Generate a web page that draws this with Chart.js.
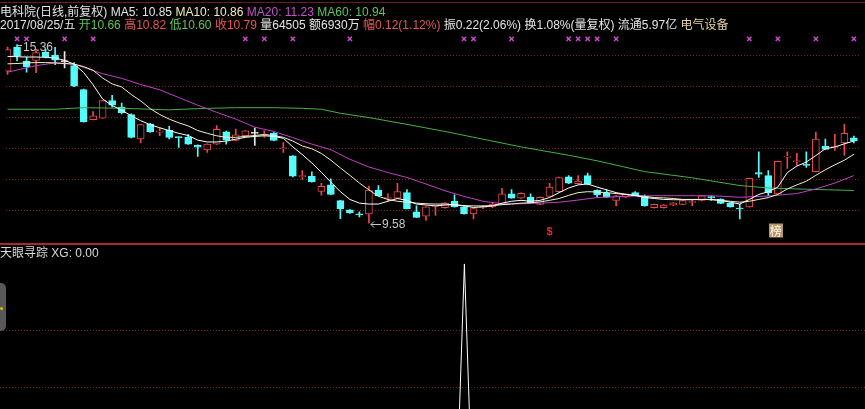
<!DOCTYPE html>
<html lang="zh">
<head>
<meta charset="UTF-8">
<title>电科院 日线</title>
<script src="https://cdn.jsdelivr.net/npm/chart.js"></script>
<style>
    body {
        margin: 0;
        width: 865px;
        height: 409px;
        overflow: hidden;
        position: relative;
        background: #000;
        font-family: "Liberation Sans", "Noto Sans CJK SC", sans-serif;
        font-size: 12px;
        color: #e4e4e4;
    }
    canvas { position: absolute; left: 0; }
    #main { top: 0; }
    #sub { top: 246px; }
    .row { position: absolute; left: 0; white-space: nowrap; line-height: 14px; }
    .topline { position: absolute; left: 0; top: 2px; width: 865px; height: 1px; background: #6a1c1c; }
    .sep { position: absolute; left: 0; top: 243px; width: 865px; height: 2px; background: #a82a2a; }
    .knob { position: absolute; left: 0; top: 283px; width: 6px; height: 48px; background: #585858; border-radius: 0 5px 5px 0; }
    .knob i { position: absolute; left: 0; top: 24px; width: 3px; height: 3px; background: #e8c000; border-radius: 2px; }
    .w { color: #e4e4e4; }
    .y { color: #f2ecbc; }
    .m { color: #c850c8; }
    .g { color: #5cc45c; }
    .r { color: #e65656; }
    .c { color: #e2d2a0; }
</style>
</head>
<body>
<div class="topline"></div>
<canvas id="main" width="865" height="244"></canvas>
<canvas id="sub" width="865" height="163"></canvas>
<div class="sep"></div>
<div class="knob"><i></i></div>

<div class="row" style="top:5px">
    <span class="w">电科院(日线,前复权)</span> <span class="w">MA5: 10.85</span>
    <span class="y">MA10: 10.86</span> <span class="m">MA20: 11.23</span> <span class="g">MA60: 10.94</span>
</div>
<div class="row" style="top:18px">
    <span class="w">2017/08/25/五</span> <span class="g">开10.66</span> <span class="r">高10.82</span>
    <span class="g">低10.60</span> <span class="r">收10.79</span> <span class="w">量64505</span>
    <span class="w">额6930万</span> <span class="r">幅0.12(1.12%)</span> <span class="w">振0.22(2.06%)</span>
    <span class="w">换1.08%(量复权)</span> <span class="w">流通5.97亿</span> <span class="c">电气设备</span>
</div>
<div class="row" style="top:246px; color:#d8d8d8">天眼寻踪 XG: 0.00</div>

<script>
    // daily candles, oldest on the left
    const open = [14.50, 15.28, 14.83, 14.85, 15.12, 15.02, 14.81, 14.68, 13.91, 12.93,
        12.98, 13.55, 13.34, 13.10, 12.31, 12.79, 12.53, 12.59, 12.37, 12.36,
        12.10, 11.95, 12.14, 12.54, 12.26, 12.41, 12.49, 12.43, 12.49, 11.99,
        11.76, 11.09, 11.10, 10.61, 10.82, 10.31, 10.01, 9.86, 9.88, 10.65,
        10.38, 10.39, 10.57, 9.95, 9.81, 10.12, 10.08, 10.29, 10.11, 9.88,
        10.09, 10.11, 10.19, 10.53, 10.39, 10.42, 10.19, 10.45, 10.60, 11.08,
        10.86, 11.12, 10.65, 10.55, 10.32, 10.42, 10.57, 10.45, 10.08, 10.08,
        10.16, 10.19, 10.25, 10.32, 10.43, 10.36, 10.22, 10.06, 10.11, 11.22,
        11.12, 10.53, 11.72, 11.57, 11.47, 11.25, 12.07, 12.03, 12.18, 12.34];
    const high = [15.28, 15.36, 14.96, 15.22, 15.22, 15.27, 15.14, 14.78, 13.92, 13.19,
        13.56, 13.72, 13.47, 13.12, 12.78, 12.81, 12.67, 12.72, 12.38, 12.45,
        12.12, 12.15, 12.74, 12.56, 12.63, 12.58, 12.67, 12.57, 12.51, 12.19,
        11.77, 11.28, 11.24, 10.87, 11.02, 10.32, 10.02, 9.95, 10.78, 10.80,
        10.53, 10.87, 10.67, 10.14, 10.12, 10.16, 10.25, 10.50, 10.12, 10.06,
        10.14, 10.25, 10.71, 10.67, 10.56, 10.53, 10.43, 10.87, 11.07, 11.12,
        11.12, 11.20, 10.66, 10.66, 10.48, 10.54, 10.60, 10.50, 10.20, 10.18,
        10.25, 10.32, 10.32, 10.48, 10.47, 10.37, 10.24, 10.19, 11.04, 11.89,
        11.28, 11.59, 11.89, 11.84, 11.89, 12.53, 12.30, 12.46, 12.79, 12.40];
    const low = [14.40, 14.83, 14.47, 14.45, 14.93, 14.71, 14.61, 14.00, 12.85, 12.92,
        12.97, 13.34, 13.12, 12.34, 12.18, 12.52, 12.41, 12.31, 12.03, 12.13,
        11.74, 11.87, 12.13, 12.14, 12.25, 12.40, 12.10, 12.36, 12.25, 11.87,
        11.08, 11.00, 10.91, 10.49, 10.50, 9.73, 9.90, 9.78, 9.58, 10.46,
        10.29, 10.38, 10.04, 9.76, 9.67, 9.83, 10.07, 10.10, 9.87, 9.72,
        10.05, 10.08, 10.18, 10.38, 10.38, 10.23, 10.18, 10.44, 10.59, 10.86,
        10.85, 10.83, 10.43, 10.41, 10.14, 10.41, 10.46, 10.13, 10.07, 10.07,
        10.15, 10.18, 10.15, 10.30, 10.32, 10.21, 10.10, 9.72, 10.10, 11.06,
        10.47, 10.52, 11.35, 11.46, 11.39, 11.24, 11.96, 11.94, 11.78, 12.18];
    const close = [15.20, 15.00, 14.65, 15.10, 14.96, 14.86, 14.81, 14.02, 12.86, 13.06,
        13.55, 13.40, 13.16, 12.36, 12.77, 12.54, 12.56, 12.36, 12.35, 12.14,
        12.04, 12.14, 12.62, 12.28, 12.44, 12.57, 12.49, 12.45, 12.26, 12.01,
        11.10, 11.11, 10.92, 10.77, 10.51, 10.05, 9.91, 9.85, 10.65, 10.47,
        10.40, 10.60, 10.05, 9.77, 10.11, 10.14, 10.24, 10.11, 9.88, 10.05,
        10.11, 10.20, 10.53, 10.39, 10.55, 10.24, 10.42, 10.75, 11.06, 10.88,
        10.94, 10.84, 10.50, 10.42, 10.47, 10.53, 10.47, 10.14, 10.19, 10.17,
        10.24, 10.31, 10.27, 10.47, 10.41, 10.22, 10.11, 10.04, 11.03, 11.17,
        10.57, 11.58, 11.74, 11.59, 11.45, 12.30, 11.97, 12.05, 12.49, 12.25];

    // moving averages
    const ma5 = [14.98, 14.97, 14.96, 14.96, 14.95, 14.93, 14.85, 14.73, 14.46, 14.06,
        13.60, 13.39, 13.24, 13.06, 12.90, 12.77, 12.67, 12.58, 12.49, 12.42,
        12.27, 12.21, 12.21, 12.24, 12.30, 12.36, 12.39, 12.41, 12.39, 12.33,
        12.05, 11.80, 11.53, 11.23, 10.91, 10.60, 10.35, 10.23, 10.20, 10.20,
        10.29, 10.38, 10.32, 10.20, 10.17, 10.14, 10.17, 10.18, 10.14, 10.09,
        10.11, 10.14, 10.23, 10.29, 10.32, 10.29, 10.32, 10.41, 10.57, 10.72,
        10.82, 10.85, 10.75, 10.66, 10.57, 10.51, 10.48, 10.41, 10.38, 10.35,
        10.34, 10.34, 10.34, 10.35, 10.35, 10.32, 10.26, 10.20, 10.35, 10.51,
        10.60, 10.75, 11.22, 11.43, 11.56, 11.77, 11.99, 12.05, 12.15, 12.24];
    const ma10 = [14.74, 14.75, 14.77, 14.78, 14.78, 14.77, 14.75, 14.73, 14.65, 14.53,
        14.28, 14.09, 13.99, 13.75, 13.54, 13.29, 13.10, 12.95, 12.83, 12.73,
        12.58, 12.49, 12.41, 12.36, 12.36, 12.39, 12.42, 12.45, 12.42, 12.36,
        12.24, 12.08, 11.99, 11.84, 11.62, 11.37, 11.13, 10.88, 10.66, 10.45,
        10.35, 10.29, 10.26, 10.23, 10.21, 10.20, 10.20, 10.18, 10.15, 10.14,
        10.14, 10.15, 10.18, 10.20, 10.23, 10.24, 10.27, 10.32, 10.38, 10.48,
        10.57, 10.60, 10.59, 10.57, 10.54, 10.51, 10.48, 10.45, 10.41, 10.40,
        10.38, 10.35, 10.35, 10.35, 10.34, 10.32, 10.29, 10.26, 10.29, 10.35,
        10.41, 10.51, 10.69, 10.82, 10.94, 11.13, 11.31, 11.47, 11.62, 11.81];
    const ma20Idx = [0, 3, 5, 7, 10, 12, 14, 16, 18, 20, 22, 24, 26, 28, 30, 32, 34, 36, 38, 40,
        42, 44, 46, 48, 50, 52, 54, 56, 58, 60, 62, 65, 68, 71, 74, 77, 80, 83, 85, 87, 89];
    const ma20 = [14.47, 14.68, 14.77, 14.73, 14.42, 14.27, 14.07, 13.90, 13.65, 13.40,
        13.17, 12.95, 12.69, 12.55, 12.35, 12.14, 11.96, 11.65, 11.40, 11.22,
        11.06, 10.85, 10.63, 10.45, 10.29, 10.21, 10.21, 10.23, 10.26, 10.33,
        10.41, 10.45, 10.47, 10.47, 10.47, 10.42, 10.46, 10.54, 10.69, 10.88, 11.12];
    const ma60Idx = [0, 5, 8, 12, 17, 20, 24, 28, 31, 33, 35, 38, 42, 46, 50, 54, 59, 62, 67, 72, 77, 80, 84, 89];
    const ma60 = [13.27, 13.27, 13.32, 13.30, 13.25, 13.29, 13.32, 13.32, 13.30, 13.27,
        13.14, 13.00, 12.78, 12.55, 12.30, 12.05, 11.78, 11.60, 11.25, 11.05,
        10.80, 10.72, 10.68, 10.64];

    // pink cross markers along the top, and the XG indicator
    const crossIdx = [1, 2, 6, 9, 25, 27, 30, 36, 48, 49, 53, 59, 60, 61, 62, 64, 78, 81, 85, 89];
    const xgSignal = [0, 0, 0, 0, 0, 0, 0, 0, 0, 0, 0, 0, 0, 0, 0, 0, 0, 0, 0, 0,
        0, 0, 0, 0, 0, 0, 0, 0, 0, 0, 0, 0, 0, 0, 0, 0, 0, 0, 0, 0,
        0, 0, 0, 0, 0, 0, 0, 0, 100, 0, 0, 0, 0, 0, 0, 0, 0, 0, 0, 0,
        0, 0, 0, 0, 0, 0, 0, 0, 0, 0, 0, 0, 0, 0, 0, 0, 0, 0, 0, 0,
        0, 0, 0, 0, 0, 0, 0, 0, 0, 0];

    const priceGrid = [10, 11, 12, 13, 14, 15];
    const xgGrid = [56.8, 76.8];
    const highMark = { index: 1, value: 15.36 };
    const lowMark = { index: 38, value: 9.58 };
    const dollarIdx = 57;
    const bangIdx = 81;

    const RED = '#e8484c';
    const CYAN = '#54fcfc';
    const FLAT = '#e8e8e8';
    const GRID = '#7c2222';
    const CROSS_Y = 15.55;

    const days = open.map((_, i) => i);

    function candleColor(i) {
        if (close[i] > open[i]) return RED;
        if (close[i] < open[i]) return CYAN;
        return FLAT;
    }

    function xAxis() {
        return { type: 'linear', min: -0.215, max: 89.59, display: false, offset: false, grid: { offset: false } };
    }

    function yAxis(min, max, gridValues) {
        return {
            min: min,
            max: max,
            position: 'left',
            afterFit: s => { s.width = 0; },
            afterBuildTicks: s => { s.ticks = gridValues.map(v => ({ value: v })); },
            ticks: { display: false },
            grid: { color: GRID, drawTicks: false, lineWidth: 1 },
            border: { display: false, dash: [1, 2] }
        };
    }

    function maLine(idx, values, color) {
        return {
            type: 'line',
            data: idx.map((d, k) => ({ x: d, y: values[k] })),
            borderColor: color,
            borderWidth: 1,
            pointRadius: 0,
            tension: 0,
            order: 1
        };
    }

    // price labels and signal marks, placed with the chart's scales
    const marksPlugin = {
        id: 'marks',
        afterDatasetsDraw(chart) {
            const { ctx, chartArea } = chart;
            const x = chart.scales.x, y = chart.scales.y;
            ctx.save();
            ctx.font = '12px "Liberation Sans", sans-serif';
            ctx.fillStyle = '#c8c8c8';
            ctx.strokeStyle = '#c8c8c8';
            ctx.lineWidth = 1;
            ctx.textBaseline = 'middle';

            let px = Math.round(x.getPixelForValue(highMark.index));
            let py = Math.round(y.getPixelForValue(highMark.value));
            ctx.beginPath();
            ctx.moveTo(px + 1, py + 0.5);
            ctx.lineTo(px + 5, py + 0.5);
            ctx.stroke();
            ctx.fillText(highMark.value.toFixed(2), px + 6, py + 3);

            px = Math.round(x.getPixelForValue(lowMark.index));
            py = Math.round(y.getPixelForValue(lowMark.value)) + 1.5;
            ctx.beginPath();
            ctx.moveTo(px + 2, py);
            ctx.lineTo(px + 12, py);
            ctx.moveTo(px + 5, py - 3);
            ctx.lineTo(px + 2, py);
            ctx.lineTo(px + 5, py + 3);
            ctx.stroke();
            ctx.fillText(lowMark.value.toFixed(2), px + 13, py);

            const by = chartArea.bottom - 7;
            ctx.textAlign = 'center';
            ctx.font = 'bold 11px "Liberation Sans", sans-serif';
            ctx.fillStyle = '#e02828';
            ctx.fillText('$', x.getPixelForValue(dollarIdx), by);

            px = x.getPixelForValue(bangIdx) - 2;
            ctx.fillStyle = '#b49a68';
            ctx.fillRect(Math.round(px - 7), chartArea.bottom - 15, 14, 14);
            ctx.font = '12px "Noto Sans CJK SC", sans-serif';
            ctx.fillStyle = '#fff8e8';
            ctx.fillText('榜', px, by);
            ctx.restore();
        }
    };

    new Chart(document.getElementById('main'), {
        type: 'bar',
        data: {
            datasets: [
                maLine(days, ma5, '#ffffff'),
                maLine(days, ma10, '#f4f0c4'),
                maLine(ma20Idx, ma20, '#c040c4'),
                maLine(ma60Idx, ma60, '#46b046'),
                {
                    type: 'line',
                    showLine: false,
                    data: crossIdx.map(d => ({ x: d, y: CROSS_Y })),
                    pointStyle: 'crossRot',
                    pointRadius: 3,
                    borderColor: '#d048d0',
                    borderWidth: 1.5,
                    order: 0
                },
                {
                    // wicks
                    data: days.map(i => ({ x: i, y: [low[i], high[i]] })),
                    backgroundColor: days.map(candleColor),
                    barThickness: 1,
                    grouped: false,
                    order: 5
                },
                {
                    // bodies: rising days are hollow
                    data: days.map(i => ({ x: i, y: [Math.min(open[i], close[i]), Math.max(open[i], close[i])] })),
                    backgroundColor: days.map(i => close[i] > open[i] ? '#000000' : candleColor(i)),
                    borderColor: days.map(candleColor),
                    borderWidth: 1,
                    borderSkipped: false,
                    barThickness: 7,
                    minBarLength: 1,
                    grouped: false,
                    order: 4
                }
            ]
        },
        options: {
            responsive: false,
            animation: false,
            layout: { padding: 0 },
            plugins: { legend: { display: false }, tooltip: { enabled: false } },
            scales: {
                x: xAxis(),
                y: yAxis(9.085, 16.628, priceGrid)
            }
        },
        plugins: [marksPlugin]
    });

    new Chart(document.getElementById('sub'), {
        type: 'line',
        data: {
            datasets: [{
                data: xgSignal.map((v, i) => ({ x: i, y: v })),
                borderColor: '#ffffff',
                borderWidth: 1,
                pointRadius: 0,
                tension: 0
            }]
        },
        options: {
            responsive: false,
            animation: false,
            layout: { padding: 0 },
            plugins: { legend: { display: false }, tooltip: { enabled: false } },
            scales: {
                x: xAxis(),
                y: yAxis(49.1, 106.3, xgGrid)
            }
        }
    });
</script>
</body>
</html>
